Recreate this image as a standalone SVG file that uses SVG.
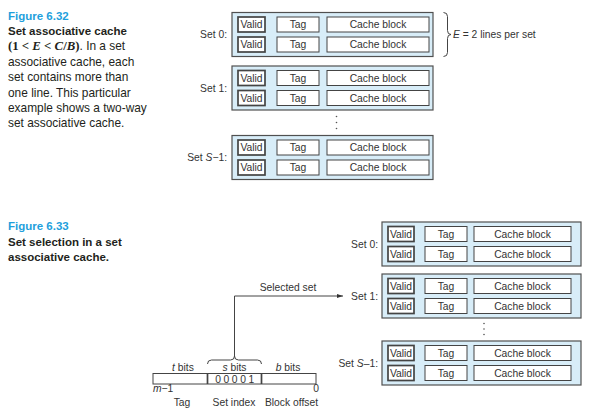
<svg xmlns="http://www.w3.org/2000/svg" width="599" height="419" viewBox="0 0 599 419">
<style>
  .fig { font-family: "Liberation Sans", Arial, sans-serif; font-size: 11.5px; font-weight: bold; fill: #1f9fdc; }
  .cap { font-family: "Liberation Sans", Arial, sans-serif; font-size: 11.9px; fill: #231f20; }
  .capb { font-family: "Liberation Sans", Arial, sans-serif; font-size: 11.5px; font-weight: bold; fill: #231f20; }
  .math { font-family: "Liberation Serif", "Times New Roman", serif; font-weight: bold; font-size: 12.8px; }
  .t { font-family: "Liberation Sans", Arial, sans-serif; font-size: 10.3px; fill: #333; }
  .m { text-anchor: middle; }
  .e { text-anchor: end; }
  .outer { fill: #d8edf8; stroke: #505050; stroke-width: 1.2; }
  .cell { fill: #fff; stroke: #444; stroke-width: 1; }
  .valid { fill: #fff; stroke: #444; stroke-width: 1.7; }
  .ln { fill: none; stroke: #444; stroke-width: 1; }
  .dot { fill: #555; }
</style>
<defs>
  <marker id="arr" viewBox="0 0 10 10" refX="10" refY="5" markerWidth="6" markerHeight="6" orient="auto" markerUnits="userSpaceOnUse">
    <path d="M0,1.5 L10,5 L0,8.5 Z" fill="#333"/>
  </marker>
</defs>

<!-- Captions -->
<g id="caption632">
  <text class="fig" x="8" y="19.5">Figure 6.32</text>
  <text class="capb" x="8" y="35">Set associative cache</text>
  <text class="cap" x="8" y="50.3"><tspan class="math">(1 &lt; <tspan font-style="italic">E</tspan> &lt; <tspan font-style="italic">C</tspan>/<tspan font-style="italic">B</tspan>)</tspan>. In a set</text>
  <text class="cap" x="8" y="65.7">associative cache, each</text>
  <text class="cap" x="8" y="81">set contains more than</text>
  <text class="cap" x="8" y="96.5">one line. This particular</text>
  <text class="cap" x="8" y="111.8">example shows a two-way</text>
  <text class="cap" x="8" y="127.2">set associative cache.</text>
</g>
<g id="caption633">
  <text class="fig" x="8" y="229.5">Figure 6.33</text>
  <text class="capb" x="8" y="245.5">Set selection in a set</text>
  <text class="capb" x="8" y="260.5">associative cache.</text>
</g>

<!-- Figure 6.32 sets -->
<g id="top-set0" transform="translate(0,12.5)">
  <text class="t e" x="227" y="25.7">Set 0:</text>
  <rect class="outer" x="232" y="0" width="201" height="44"/>
  <rect class="valid" x="238" y="4.5" width="27" height="15"/>
  <rect class="cell" x="277" y="4.5" width="42" height="15"/>
  <rect class="cell" x="327" y="4.5" width="102" height="15"/>
  <rect class="valid" x="238" y="24.5" width="27" height="15"/>
  <rect class="cell" x="277" y="24.5" width="42" height="15"/>
  <rect class="cell" x="327" y="24.5" width="102" height="15"/>
  <text class="t m" x="251.5" y="15.7">Valid</text>
  <text class="t m" x="298" y="15.7">Tag</text>
  <text class="t m" x="378" y="15.7">Cache block</text>
  <text class="t m" x="251.5" y="35.7">Valid</text>
  <text class="t m" x="298" y="35.7">Tag</text>
  <text class="t m" x="378" y="35.7">Cache block</text>
</g>
<g id="top-set1" transform="translate(0,66)">
  <text class="t e" x="227" y="25.7">Set 1:</text>
  <rect class="outer" x="232" y="0" width="201" height="44"/>
  <rect class="valid" x="238" y="4.5" width="27" height="15"/>
  <rect class="cell" x="277" y="4.5" width="42" height="15"/>
  <rect class="cell" x="327" y="4.5" width="102" height="15"/>
  <rect class="valid" x="238" y="24.5" width="27" height="15"/>
  <rect class="cell" x="277" y="24.5" width="42" height="15"/>
  <rect class="cell" x="327" y="24.5" width="102" height="15"/>
  <text class="t m" x="251.5" y="15.7">Valid</text>
  <text class="t m" x="298" y="15.7">Tag</text>
  <text class="t m" x="378" y="15.7">Cache block</text>
  <text class="t m" x="251.5" y="35.7">Valid</text>
  <text class="t m" x="298" y="35.7">Tag</text>
  <text class="t m" x="378" y="35.7">Cache block</text>
</g>
<g id="top-dots">
  <circle class="dot" cx="336.5" cy="116.5" r="0.8"/>
  <circle class="dot" cx="336.5" cy="122.5" r="0.8"/>
  <circle class="dot" cx="336.5" cy="128.5" r="0.8"/>
</g>
<g id="top-setS1" transform="translate(0,135.5)">
  <text class="t e" x="227" y="25.7">Set <tspan font-style="italic">S</tspan>−1:</text>
  <rect class="outer" x="232" y="0" width="201" height="44"/>
  <rect class="valid" x="238" y="4.5" width="27" height="15"/>
  <rect class="cell" x="277" y="4.5" width="42" height="15"/>
  <rect class="cell" x="327" y="4.5" width="102" height="15"/>
  <rect class="valid" x="238" y="24.5" width="27" height="15"/>
  <rect class="cell" x="277" y="24.5" width="42" height="15"/>
  <rect class="cell" x="327" y="24.5" width="102" height="15"/>
  <text class="t m" x="251.5" y="15.7">Valid</text>
  <text class="t m" x="298" y="15.7">Tag</text>
  <text class="t m" x="378" y="15.7">Cache block</text>
  <text class="t m" x="251.5" y="35.7">Valid</text>
  <text class="t m" x="298" y="35.7">Tag</text>
  <text class="t m" x="378" y="35.7">Cache block</text>
</g>
<g id="brace-E">
  <path class="ln" d="M443.5,12.5 Q447.5,12.5 447.5,16.5 L447.5,30.5 Q447.5,34.5 451,34.5 Q447.5,34.5 447.5,38.5 L447.5,52.5 Q447.5,56.5 443.5,56.5"/>
  <text class="t" x="453" y="38"><tspan font-style="italic">E</tspan> = 2 lines per set</text>
</g>

<!-- Figure 6.33 sets -->
<g id="bot-set0" transform="translate(0,222)">
  <text class="t e" x="378" y="25.7">Set 0:</text>
  <rect class="outer" x="382" y="0" width="199" height="44"/>
  <rect class="valid" x="388" y="4.5" width="26" height="15"/>
  <rect class="cell" x="425" y="4.5" width="42" height="15"/>
  <rect class="cell" x="474" y="4.5" width="97" height="15"/>
  <rect class="valid" x="388" y="24.5" width="26" height="15"/>
  <rect class="cell" x="425" y="24.5" width="42" height="15"/>
  <rect class="cell" x="474" y="24.5" width="97" height="15"/>
  <text class="t m" x="401" y="15.7">Valid</text>
  <text class="t m" x="446" y="15.7">Tag</text>
  <text class="t m" x="522.5" y="15.7">Cache block</text>
  <text class="t m" x="401" y="35.7">Valid</text>
  <text class="t m" x="446" y="35.7">Tag</text>
  <text class="t m" x="522.5" y="35.7">Cache block</text>
</g>
<g id="bot-set1" transform="translate(0,274)">
  <text class="t e" x="378" y="25.7">Set 1:</text>
  <rect class="outer" x="382" y="0" width="199" height="44"/>
  <rect class="valid" x="388" y="4.5" width="26" height="15"/>
  <rect class="cell" x="425" y="4.5" width="42" height="15"/>
  <rect class="cell" x="474" y="4.5" width="97" height="15"/>
  <rect class="valid" x="388" y="24.5" width="26" height="15"/>
  <rect class="cell" x="425" y="24.5" width="42" height="15"/>
  <rect class="cell" x="474" y="24.5" width="97" height="15"/>
  <text class="t m" x="401" y="15.7">Valid</text>
  <text class="t m" x="446" y="15.7">Tag</text>
  <text class="t m" x="522.5" y="15.7">Cache block</text>
  <text class="t m" x="401" y="35.7">Valid</text>
  <text class="t m" x="446" y="35.7">Tag</text>
  <text class="t m" x="522.5" y="35.7">Cache block</text>
</g>
<g id="bot-dots">
  <circle class="dot" cx="484" cy="323.5" r="0.8"/>
  <circle class="dot" cx="484" cy="329" r="0.8"/>
  <circle class="dot" cx="484" cy="334.5" r="0.8"/>
</g>
<g id="bot-setS1" transform="translate(0,341)">
  <text class="t e" x="378" y="25.7">Set <tspan font-style="italic">S</tspan>–1:</text>
  <rect class="outer" x="382" y="0" width="199" height="44"/>
  <rect class="valid" x="388" y="4.5" width="26" height="15"/>
  <rect class="cell" x="425" y="4.5" width="42" height="15"/>
  <rect class="cell" x="474" y="4.5" width="97" height="15"/>
  <rect class="valid" x="388" y="24.5" width="26" height="15"/>
  <rect class="cell" x="425" y="24.5" width="42" height="15"/>
  <rect class="cell" x="474" y="24.5" width="97" height="15"/>
  <text class="t m" x="401" y="15.7">Valid</text>
  <text class="t m" x="446" y="15.7">Tag</text>
  <text class="t m" x="522.5" y="15.7">Cache block</text>
  <text class="t m" x="401" y="35.7">Valid</text>
  <text class="t m" x="446" y="35.7">Tag</text>
  <text class="t m" x="522.5" y="35.7">Cache block</text>
</g>

<!-- Address -->
<g id="address">
  <text class="t m" x="183" y="371"><tspan font-style="italic">t</tspan> bits</text>
  <text class="t m" x="234.5" y="371"><tspan font-style="italic">s</tspan> bits</text>
  <text class="t m" x="288" y="371"><tspan font-style="italic">b</tspan> bits</text>
  <rect x="153" y="373.5" width="163" height="10.5" fill="#fff" stroke="#444" stroke-width="1"/>
  <line x1="207.5" y1="373.5" x2="207.5" y2="384" stroke="#444" stroke-width="1.7"/>
  <line x1="261.5" y1="373.5" x2="261.5" y2="384" stroke="#444" stroke-width="1.7"/>
  <text class="t" x="236" y="382.5" font-size="9.5" letter-spacing="2.6" text-anchor="middle">00001</text>
  <text class="t" x="153" y="391.5" font-size="6.5"><tspan font-style="italic">m</tspan>−1</text>
  <text class="t m" x="316" y="391.5" font-size="6.5">0</text>
  <text class="t m" x="182" y="405.5">Tag</text>
  <text class="t m" x="234" y="405.5">Set index</text>
  <text class="t m" x="291.5" y="405.5">Block offset</text>
  <path class="ln" d="M207.5,364 Q207.5,360 211.5,360 L230.5,360 Q234.5,360 234.5,356 Q234.5,360 238.5,360 L257.5,360 Q261.5,360 261.5,364"/>
</g>

<!-- Connectors -->
<g id="connectors">
  <path class="ln" d="M234.5,356 L234.5,296 L343,296" marker-end="url(#arr)"/>
  <text class="t m" x="288" y="291">Selected set</text>
</g>
</svg>
